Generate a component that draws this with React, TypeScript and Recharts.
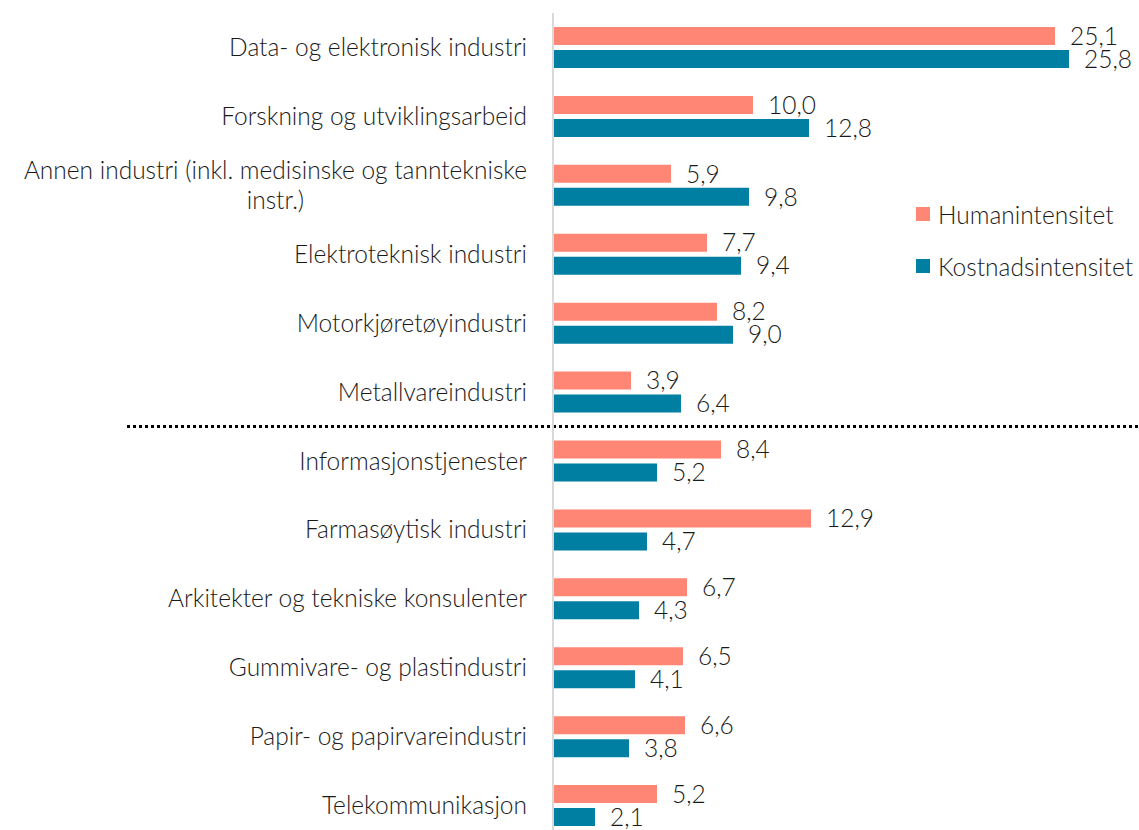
import { Bar, BarChart, LabelList, ReferenceLine, XAxis, YAxis } from "recharts";

const categories = [
  "Data- og elektronisk industri",
  "Forskning og utviklingsarbeid",
  "Annen industri (inkl. medisinske og tanntekniske instr.)",
  "Elektroteknisk industri",
  "Motorkjøretøyindustri",
  "Metallvareindustri",
  "Informasjonstjenester",
  "Farmasøytisk industri",
  "Arkitekter og tekniske konsulenter",
  "Gummivare- og plastindustri",
  "Papir- og papirvareindustri",
  "Telekommunikasjon",
];
const humanintensitet = [25.1, 10.0, 5.9, 7.7, 8.2, 3.9, 8.4, 12.9, 6.7, 6.5, 6.6, 5.2];
const kostnadsintensitet = [25.8, 12.8, 9.8, 9.4, 9.0, 6.4, 5.2, 4.7, 4.3, 4.1, 3.8, 2.1];
const seriesNames = ["Humanintensitet", "Kostnadsintensitet"];
// the dotted separator goes above this category
const separatorBefore = "Informasjonstjenester";

const PINK = "#FF8674";
const TEAL = "#007FA3";
const TEXT = "#1a1a1a";
const FONT = "Lato, 'Open Sans', sans-serif";
const FONT_SIZE = 24.5;
const FONT_WEIGHT = 300;
const WIDTH = 1139;
const HEIGHT = 840;
const LABEL_MAX = 530;

const data = categories.map((name, i) => ({
  name,
  human: humanintensitet[i],
  kost: kostnadsintensitet[i],
}));

const fmt = (v: unknown) => Number(v).toFixed(1).replace(".", ",");

let ctx: CanvasRenderingContext2D | null = null;
function measure(text: string) {
  if (!ctx) {
    ctx = document.createElement("canvas").getContext("2d");
  }
  if (!ctx) return text.length * FONT_SIZE * 0.42;
  ctx.font = `${FONT_WEIGHT} ${FONT_SIZE}px Lato`;
  return ctx.measureText(text).width;
}

function wrap(text: string) {
  const words = text.split(" ");
  const lines: string[] = [];
  let cur = "";
  for (const w of words) {
    const next = cur ? cur + " " + w : w;
    if (measure(next) > LABEL_MAX && cur) {
      lines.push(cur);
      cur = w;
    } else {
      cur = next;
    }
  }
  if (cur) lines.push(cur);
  return lines;
}

const textProps = {
  fill: TEXT,
  fontSize: FONT_SIZE,
  fontFamily: FONT,
  fontWeight: FONT_WEIGHT,
};

function CategoryTick(props: any) {
  const { x, y, payload } = props;
  const lines = wrap(String(payload.value));
  const lineH = 30;
  if (lines.length === 1) {
    return (
      <text x={x} y={y} dy="0.35em" textAnchor="end" {...textProps}>
        {payload.value}
      </text>
    );
  }
  const w = Math.max(...lines.map(measure));
  const cx = x - w / 2;
  const top = y - ((lines.length - 1) * lineH) / 2;
  return (
    <text x={cx} y={top} textAnchor="middle" {...textProps}>
      {lines.map((l, i) => (
        <tspan key={i} x={cx} y={top + i * lineH} dy="0.35em">
          {l}
        </tspan>
      ))}
    </text>
  );
}

function LegendBox() {
  const colors = [PINK, TEAL];
  return (
    <div
      style={{
        position: "absolute",
        left: 916,
        top: 188,
        fontFamily: FONT,
        fontSize: FONT_SIZE,
        fontWeight: FONT_WEIGHT,
        color: TEXT,
      }}
    >
      {seriesNames.map((n, i) => (
        <div key={n} style={{ display: "flex", alignItems: "center", height: 52, whiteSpace: "nowrap" }}>
          <span style={{ width: 14, height: 14, background: colors[i], marginRight: 8, display: "inline-block" }} />
          {n}
        </div>
      ))}
    </div>
  );
}

function Separator(props: any) {
  const y = props.y1 ?? props.y;
  return <line x1={127} y1={y} x2={WIDTH} y2={y} stroke="#000" strokeWidth={3} strokeDasharray="3 3" />;
}

export default function App() {
  return (
    <div style={{ position: "absolute", top: 0, left: 0, width: WIDTH, height: HEIGHT, background: "#fff" }}>
      <BarChart
        width={WIDTH}
        height={HEIGHT}
        data={data}
        layout="vertical"
        margin={{ top: 13, right: 6, bottom: 0, left: 0 }}
        barSize={18}
        barGap={5}
      >
        <XAxis type="number" domain={[0, 29]} hide />
        <YAxis
          type="category"
          dataKey="name"
          width={553}
          axisLine={{ stroke: "#D9D9D9", strokeWidth: 2 }}
          tickLine={false}
          tickSize={0}
          tickMargin={26}
          interval={0}
          tick={<CategoryTick />}
        />
        <Bar dataKey="human" name={seriesNames[0]} fill={PINK} isAnimationActive={false}>
          <LabelList dataKey="human" position="right" offset={15} formatter={fmt} {...textProps} />
        </Bar>
        <Bar dataKey="kost" name={seriesNames[1]} fill={TEAL} isAnimationActive={false}>
          <LabelList dataKey="kost" position="right" offset={15} formatter={fmt} {...textProps} />
        </Bar>
        <ReferenceLine y={separatorBefore} position="start" shape={<Separator />} />
      </BarChart>
      <LegendBox />
    </div>
  );
}
